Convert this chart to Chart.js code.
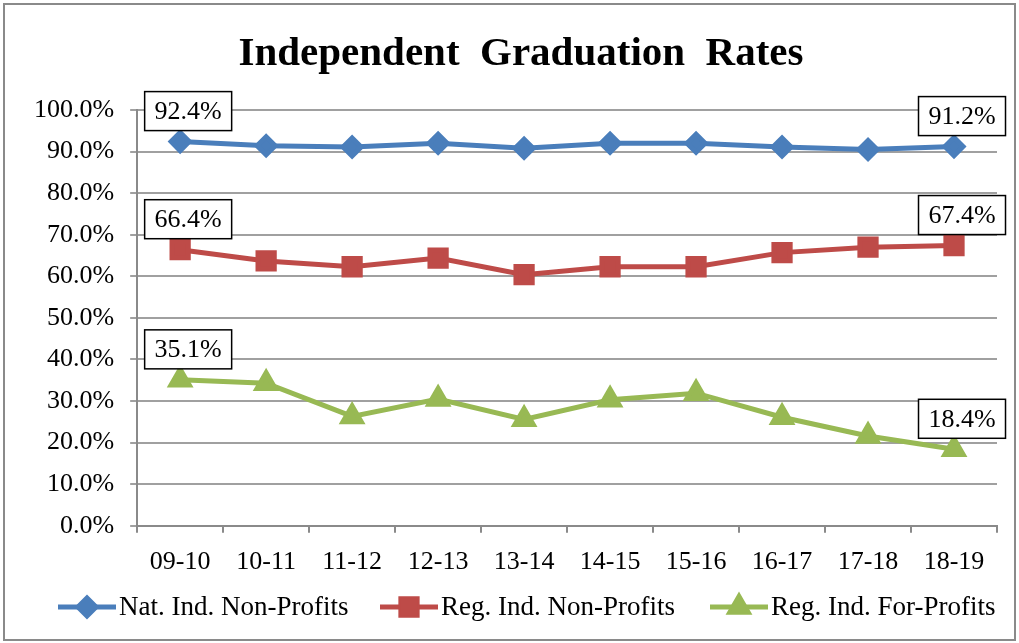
<!DOCTYPE html>
<html>
<head>
<meta charset="utf-8">
<script src="https://cdn.jsdelivr.net/npm/chart.js@4.4.0/dist/chart.umd.min.js"></script>
<style>
  html, body { margin: 0; padding: 0; background: #fff; }
  #wrap { width: 1019px; height: 643px; }
</style>
</head>
<body>
<div id="wrap"><canvas id="gradChart"></canvas></div>
<script>
// DATA

const chartTitle = "Independent  Graduation  Rates";

const years = ["09-10", "10-11", "11-12", "12-13", "13-14", "14-15", "15-16", "16-17", "17-18", "18-19"];

const natNonProfits = [0.924, 0.914, 0.911, 0.920, 0.908, 0.920, 0.920, 0.911, 0.905, 0.912];

const regNonProfits = [0.664, 0.637, 0.623, 0.644, 0.604, 0.623, 0.623, 0.657, 0.670, 0.674];

const regForProfits = [0.351, 0.343, 0.263, 0.305, 0.256, 0.303, 0.319, 0.261, 0.216, 0.184];

const seriesNames = ["Nat. Ind. Non-Profits", "Reg. Ind. Non-Profits", "Reg. Ind. For-Profits"];


const FONT = "'Liberation Serif', 'Times New Roman', serif";


// TITLE + END LABELS + LEGEND + FRAME

const extrasPlugin = {
    id: "extras",
    afterDraw(chart) {
        const ctx = chart.ctx;
        ctx.save();

        // frame
        ctx.strokeStyle = "#8a8a8a";
        ctx.lineWidth = 2;
        ctx.strokeRect(4, 4, chart.width - 8, chart.height - 7);

        // title
        ctx.fillStyle = "#000";
        ctx.font = "bold 41px " + FONT;
        ctx.textAlign = "center";
        ctx.textBaseline = "middle";
        ctx.fillText(chartTitle, 521, 54);

        // boxed labels on first and last point
        ctx.font = "26px " + FONT;
        chart.data.datasets.forEach((ds, i) => {
            const meta = chart.getDatasetMeta(i);
            [0, ds.data.length - 1].forEach((idx) => {
                const pt = meta.data[idx];
                const text = (ds.data[idx] * 100).toFixed(1) + "%";
                const w = 87, h = 39;
                const cx = pt.x + 8;
                const bottom = pt.y - 11;
                ctx.fillStyle = "#fff";
                ctx.fillRect(cx - w / 2, bottom - h, w, h);
                ctx.strokeStyle = "#000";
                ctx.lineWidth = 1.5;
                ctx.strokeRect(cx - w / 2, bottom - h, w, h);
                ctx.fillStyle = "#000";
                ctx.fillText(text, cx, bottom - h / 2 + 1);
            });
        });

        // legend with line + marker
        const legendY = 607;
        const starts = [58, 380, 710];
        ctx.font = "27px " + FONT;
        ctx.textAlign = "left";
        chart.data.datasets.forEach((ds, i) => {
            const x0 = starts[i];
            ctx.strokeStyle = ds.borderColor;
            ctx.lineWidth = 5;
            ctx.beginPath();
            ctx.moveTo(x0, legendY);
            ctx.lineTo(x0 + 58, legendY);
            ctx.stroke();
            ctx.fillStyle = ds.borderColor;
            Chart.helpers.drawPoint(ctx, {
                pointStyle: ds.pointStyle,
                radius: ds.pointRadius,
                rotation: 0,
                borderWidth: 1
            }, x0 + 29, legendY);
            ctx.fill();
            ctx.fillStyle = "#000";
            ctx.fillText(ds.label, x0 + 61, legendY + 1);
        });

        ctx.restore();
    }
};


// CREATE CHART

new Chart(document.getElementById("gradChart"), {

    type: "line",

    data: {

        labels: years,

        datasets: [
            {
                label: seriesNames[0],
                data: natNonProfits,
                borderColor: "#4a7ebb",
                backgroundColor: "#4a7ebb",
                borderWidth: 5,
                pointStyle: "rectRot",
                pointRadius: 9,
                pointHoverRadius: 9
            },
            {
                label: seriesNames[1],
                data: regNonProfits,
                borderColor: "#be4b48",
                backgroundColor: "#be4b48",
                borderWidth: 5,
                pointStyle: "rect",
                pointRadius: 11.5,
                pointHoverRadius: 11.5
            },
            {
                label: seriesNames[2],
                data: regForProfits,
                borderColor: "#98b954",
                backgroundColor: "#98b954",
                borderWidth: 5,
                pointStyle: "triangle",
                pointRadius: 10.5,
                pointHoverRadius: 10.5
            }
        ]
    },

    options: {

        responsive: true,
        maintainAspectRatio: false,
        animation: false,

        layout: {
            padding: { left: 18, right: 22, top: 110, bottom: 51 }
        },

        plugins: {

            legend: { display: false },

            tooltip: { enabled: false },

            title: { display: false }
        },

        scales: {

            x: {
                offset: true,
                grid: {
                    offset: true,
                    drawOnChartArea: false,
                    drawTicks: true,
                    tickLength: 7,
                    color: "#8a8a8a",
                    lineWidth: 2
                },
                border: { color: "#8a8a8a", width: 2 },
                ticks: {
                    color: "#000",
                    font: { family: FONT, size: 26 },
                    padding: 14,
                    maxRotation: 0
                }
            },

            y: {
                min: 0,
                max: 1,
                grid: {
                    color: "#a0a0a0",
                    lineWidth: 2,
                    tickLength: 7
                },
                border: { color: "#8a8a8a", width: 2 },
                ticks: {
                    stepSize: 0.1,
                    color: "#000",
                    padding: 16,
                    font: { family: FONT, size: 26 },
                    callback: (v) => (v * 100).toFixed(1) + "%"
                }
            }
        }
    },

    plugins: [extrasPlugin]
});
</script>
</body>
</html>
